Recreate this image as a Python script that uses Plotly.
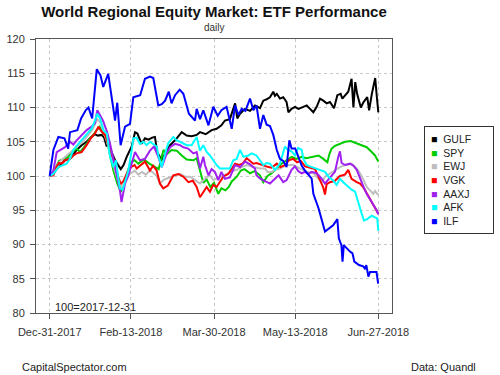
import plotly.graph_objects as go
import pandas as pd

BASE = pd.Timestamp("2017-12-31")

names = ["GULF", "SPY", "EWJ", "VGK", "AAXJ", "AFK", "ILF"]
colors = ["#000000", "#00CD00", "#BEBEBE", "#FF0000", "#A020F0", "#00FFFF", "#0000FF"]

tick_dates = ["2017-12-31", "2018-02-13", "2018-03-30", "2018-05-13", "2018-06-27"]
tick_labels = ["Dec-31-2017", "Feb-13-2018", "Mar-30-2018", "May-13-2018", "Jun-27-2018"]
y_ticks = [80, 85, 90, 95, 100, 105, 110, 115, 120]

# days after 2017-12-31 and index values (100 = 2017-12-31)
gulf_days = [0, 2, 4.7, 8.3, 11, 14.6, 17.3, 20, 21.8, 24.5,
             26, 28.2, 29.5, 30.9, 32, 33.5, 35.4, 37.2, 38.5, 40,
             41.7, 44.4, 46.2, 47.5, 49.8, 51.6, 53.5, 55.5, 57, 58.2,
             60.7, 62.5, 65.2, 68.8, 71.5, 74.2, 76.9, 79.6, 81.4, 84.5,
             87.7, 90.4, 93, 94.9, 97.6, 100.4, 101.6, 103.1, 105.8, 108.5,
             111.2, 113.9, 115.7, 117.5, 119.3, 121.1, 122, 123, 124.7, 126.5,
             128.3, 129.3, 131, 132.9, 134.7, 137.4, 139.2, 141, 142.8, 144.6,
             146.4, 148.2, 150, 151.8, 154, 155.8, 157.6, 158.5, 161.7, 163.5,
             164.5, 165.5, 166.5, 168.5, 170, 172, 173, 174.5, 176.3, 177.2, 178]
gulf_vals = [100, 100.4, 101.3, 102.3, 102.5, 103.8, 104.5, 105, 105.5, 106.1,
             105.9, 106, 105.6, 104.3, 104.8, 103.5, 102.3, 101.5, 101.0, 101.6,
             102.8, 104.3, 106.4, 106.2, 104.7, 105.5, 105.3, 105.6, 105.7, 103.5,
             102.3, 103.3, 104.5, 105.5, 106.4, 105.9, 105.8, 106.0, 106.4, 106.1,
             106.7, 106.9, 107.4, 108.1, 108.3, 110.6, 108.4, 109.1, 109.8, 109.5,
             110.3, 109.9, 111.0, 111.2, 111.5, 112.3, 111.7, 112.0, 111.3, 111.5,
             110.8, 109.3, 109.8, 110.1, 109.8, 110.1, 110.3, 109.8, 109.3, 110.1,
             111.3, 111.0, 110.6, 110.8, 109.9, 111.8, 112.0, 111.3, 112.3, 114.2,
             110.0, 113.7, 112.0, 110.0, 110.8, 111.5, 109.6, 112.0, 114.3, 111.5, 109.3]

spy_days = [0, 2, 5, 8, 10, 12, 14.6, 16.4, 20, 21.8,
            23.6, 25.5, 27, 29, 30.9, 32.7, 34.5, 36.5, 38.5, 40.5,
            42, 44, 46, 48, 51, 54, 57, 59, 61.6, 63.5,
            66, 68.8, 71.5, 74.2, 77.8, 79.6, 81.4, 83.2, 85, 87,
            89, 91.3, 93, 95.2, 97, 98.6, 101.3, 103.5, 105.5, 108.5,
            111, 113.9, 115.7, 118, 120.2, 123, 125.6, 128.3, 131, 133.7,
            136.5, 139, 141.9, 145.6, 148.2, 150.4, 151.5, 152.7, 154.5, 157.2,
            160, 163, 166.3, 169, 171.7, 174.4, 176.2, 178]
spy_vals = [100, 100.5, 102.2, 102.5, 102.8, 103.5, 104.0, 103.5, 104.7, 105.5,
            106.0, 106.7, 107.2, 106.3, 105.5, 103.0, 100.8, 99.0, 97.7, 98.8,
            100.5, 102.0, 102.3, 101.8, 102.4, 101.8, 101.3, 101.0, 103.8, 103.2,
            103.8, 103.7, 103.0, 102.4, 102.3, 102.6, 100.8, 99.0, 99.5, 98.4,
            99.0, 97.4, 98.2, 97.9, 98.4, 99.2, 99.9, 100.8, 101.0, 100.4,
            100.7, 100.1, 99.1, 100.0, 100.4, 101.1, 101.8, 102.3, 102.8, 102.5,
            102.8, 102.6, 102.8, 103.0, 102.5, 102.0, 103.2, 104.0, 104.4, 104.7,
            105.0, 105.1, 104.8, 104.5, 104.2, 103.5, 103.0, 102.1]

ewj_days = [0, 2, 5, 8, 11, 14, 17, 20, 23, 25.8,
            27.5, 29, 31, 33, 35, 37, 38.8, 41, 43, 46,
            48, 50, 52, 54.3, 56, 57.9, 59.7, 62, 65.2, 67.9,
            70.6, 73.3, 76, 78.7, 81.4, 84, 86.8, 88.6, 90.4, 93,
            96, 99.7, 101.3, 104, 106.7, 110.3, 114, 116.6, 118, 120.2,
            122, 124.7, 128.3, 131.9, 135.6, 139.2, 142.8, 145.6, 147.3, 149.1,
            151.8, 154.5, 157.2, 160, 163.5, 166.3, 168.1, 170, 171.7, 173.5,
            175.3, 176.2, 178]
ewj_vals = [100, 100.5, 102.0, 102.7, 103.3, 104.0, 104.8, 105.7, 106.7, 108.3,
            107.8, 106.5, 105.0, 103.0, 101.0, 99.2, 98.3, 99.3, 100.2, 100.8,
            100.2, 100.6, 100.2, 100.8, 100.5, 100.0, 98.9, 99.5, 99.8, 100.1,
            100.3, 99.9, 99.9, 99.4, 98.9, 99.6, 100.1, 99.4, 99.6, 99.9,
            100.3, 100.8, 100.9, 101.3, 101.6, 101.3, 101.1, 101.1, 100.6, 100.6,
            100.9, 101.1, 101.6, 101.6, 101.1, 100.6, 100.4, 99.6, 99.1, 99.9,
            100.4, 100.9, 101.3, 101.6, 101.8, 101.1, 100.4, 99.4, 98.4, 97.9,
            97.4, 97.8, 97.2]

vgk_days = [0, 2, 3.8, 5, 6.5, 8.3, 11, 12.8, 14.6, 17.3,
            20, 22.7, 24.5, 26.4, 28, 30, 32.7, 35.4, 37, 38.5,
            40, 42, 44, 46, 47.1, 49, 51.6, 54.3, 56, 57.9,
            59.7, 61.5, 64, 67, 69.7, 72.4, 75.1, 77.5, 79.6, 81.4,
            83.4, 85, 86.8, 88.6, 90.4, 92.2, 94, 96.7, 98.5, 100.4,
            102.5, 104.5, 106.7, 108.5, 110.3, 112, 114, 116.6, 118.5, 120.2,
            123, 125, 127.4, 129.5, 131.9, 134, 136, 138.3, 141, 143.7,
            146.4, 148.2, 149.1, 150, 151.8, 154.5, 157.2, 159.9, 161.7, 163.5,
            166.3, 168.1, 170, 171.7, 173.5, 175.3, 177.1, 178]
vgk_vals = [100, 100.1, 101.4, 101.9, 101.8, 102.3, 102.5, 103.0, 103.3, 103.5,
            104.5, 105.7, 106.2, 107.2, 106.5, 106.0, 103.8, 101.8, 100.0, 98.8,
            99.3, 100.5, 101.3, 101.6, 101.1, 101.5, 102.1, 100.8, 101.5, 100.8,
            98.9, 98.2, 98.6, 100.1, 100.3, 99.9, 99.1, 99.3, 98.4, 96.9,
            97.8, 98.4, 97.7, 98.7, 98.4, 99.1, 99.9, 100.3, 101.1, 101.8,
            101.6, 101.8, 102.6, 102.2, 101.8, 101.9, 101.7, 101.5, 101.3, 101.2,
            101.8, 101.3, 101.6, 102.3, 102.5, 102.0, 102.2, 101.4, 101.2, 101.0,
            99.4, 98.3, 97.3, 98.8, 99.1, 99.3, 100.0, 100.2, 100.9, 99.6,
            99.1, 98.9, 98.3, 97.5, 96.8, 95.8, 95.0, 94.5]

aaxj_days = [0, 2, 3.8, 5.6, 8.3, 11, 12.8, 14.6, 17.3, 20,
             22.7, 24.5, 25.8, 27.3, 29, 30, 31, 32.7, 34.5, 36.3,
             38, 38.9, 40.8, 42.6, 44.4, 46.2, 48.9, 51.6, 54.3, 56.5,
             58.8, 60.7, 63.4, 65.2, 67.9, 70.6, 72.4, 75, 77.8, 79.6,
             81.4, 83.2, 84.1, 86, 87.7, 89.5, 91.3, 93, 94.9, 97.6,
             100.4, 103.1, 105.8, 108.5, 111.2, 112, 114, 116.6, 119.3, 122,
             124, 126.5, 128.3, 131, 132.8, 134.7, 136.5, 138.3, 140, 141.9,
             144.6, 147.3, 149.1, 151, 152.7, 154.5, 156.3, 157.2, 158.1, 160,
             162.6, 164.5, 166.3, 168.1, 170, 171.7, 173.5, 175.3, 177.1, 178]
aaxj_vals = [100, 100.8, 103.5, 103.8, 104.2, 105.0, 104.6, 105.2, 106.0, 106.7,
             107.2, 107.7, 109.6, 108.9, 108.0, 107.2, 106.5, 104.7, 102.3, 100.3,
             98.0, 96.2, 98.9, 100.1, 102.0, 103.5, 102.3, 102.5, 103.7, 104.3,
             102.8, 101.3, 103.3, 104.2, 104.7, 104.5, 104.2, 104.0, 103.3, 103.5,
             101.1, 102.8, 101.6, 100.1, 101.0, 100.6, 99.4, 100.6, 99.6, 99.8,
             101.6, 101.3, 102.1, 101.7, 101.1, 100.1, 99.6, 99.2, 98.9, 99.6,
             100.1, 99.1, 99.4, 100.9, 101.4, 100.7, 100.4, 100.6, 100.3, 100.6,
             100.4, 99.6, 98.9, 99.5, 100.1, 100.6, 102.8, 103.6, 101.9, 101.6,
             101.8, 101.5, 100.9, 99.6, 98.4, 97.4, 96.5, 95.8, 95.0, 94.4]

afk_days = [0, 2, 4.7, 6.5, 9.2, 11, 12.8, 15.5, 18.2, 20.9,
            22.7, 24.5, 25.8, 27.3, 29.1, 30.9, 32.7, 34.5, 35.9, 36.6,
            38, 39.5, 41, 42.6, 44.4, 45.3, 47, 48.9, 50.7, 52.5,
            54.3, 56, 58, 59, 60.7, 62.5, 64.2, 67, 68.8, 70.6,
            72.4, 74.2, 76.9, 79.6, 81.4, 83.2, 85, 86.8, 88.6, 90.4,
            92.2, 95, 97.6, 99.4, 101.3, 103.1, 104.9, 107.6, 109.4, 112,
            113.9, 115.7, 117.5, 119.3, 122, 124.7, 127.4, 129, 131, 132.8,
            134.6, 136.5, 137.4, 139.2, 141, 143.7, 146.4, 149.1, 151, 153.4,
            155.4, 157.2, 159, 161, 163.5, 165.4, 167.2, 169, 170.2, 172,
            174.4, 176.2, 177.4, 178]
afk_vals = [100, 100.3, 101.3, 101.5, 101.8, 102.5, 103.8, 104.7, 105.5, 106.4,
            106.9, 108.1, 109.1, 108.4, 106.7, 106.2, 102.8, 101.3, 102.3, 100.8,
            98.2, 98.0, 99.5, 100.8, 103.7, 105.5, 105.6, 104.7, 105.0, 104.5,
            105.0, 104.7, 104.3, 102.8, 101.3, 103.3, 104.8, 105.7, 105.2, 105.0,
            104.8, 104.5, 104.5, 105.7, 103.7, 104.5, 103.5, 103.0, 102.3, 101.6,
            101.1, 101.1, 101.1, 102.3, 102.5, 103.8, 102.8, 103.0, 103.3, 103.0,
            102.3, 101.6, 101.9, 101.8, 100.9, 101.8, 104.3, 103.8, 103.6, 103.0,
            104.1, 103.8, 102.5, 101.6, 101.4, 101.1, 100.8, 100.6, 99.9, 99.4,
            98.7, 99.6, 99.1, 98.6, 98.0, 97.7, 95.9, 94.5, 93.5, 93.7,
            94.2, 94.0, 93.8, 92.0]

ilf_days = [0, 2, 4.7, 8, 10, 11, 15, 17, 19.5, 21,
            23, 25.5, 27.5, 29, 31.7, 33, 35.4, 36.6, 38.4, 40.8,
            43.5, 45.3, 49, 51.6, 54.3, 56.1, 58.8, 60.7, 62.5, 64.5,
            66, 67.9, 70.4, 72.4, 75.4, 78.7, 79.6, 81.4, 83.2, 86,
            88.6, 91, 93, 95.8, 98.6, 100.4, 102.2, 104, 106, 108.5,
            110.3, 112, 113.9, 115.7, 117.5, 119.3, 121.1, 123, 124.7, 126.5,
            128.3, 129.8, 131, 133, 134.7, 136.5, 138, 139.5, 141.9, 142.8,
            145.6, 149.1, 151.8, 153.5, 155.8, 156.6, 158, 158.6, 159.3, 160.5,
            162.5, 164, 165, 167.5, 169.8, 170.7, 171.5, 172.6, 173.5, 177, 177.9]
ilf_vals = [100, 103.8, 105.7, 105.5, 104.0, 106.4, 106.7, 108.4, 109.6, 110.0,
            108.4, 115.6, 114.7, 113.0, 114.9, 112.5, 108.1, 110.7, 104.5, 107.2,
            107.6, 111.5, 111.8, 114.2, 114.5, 114.3, 110.3, 110.5, 111.0, 112.3,
            110.6, 111.8, 112.6, 112.0, 109.1, 108.1, 109.8, 108.3, 109.6, 107.4,
            110.1, 108.8, 109.6, 110.1, 106.9, 110.3, 108.9, 109.8, 109.5, 111.3,
            109.6, 110.3, 106.9, 108.9, 107.5, 107.3, 106.0, 103.8, 102.5, 102.2,
            101.3, 105.2, 104.0, 104.0, 102.8, 101.5, 100.9, 100.4, 99.6, 97.4,
            95.3, 91.9, 92.4, 92.8, 93.7, 90.9, 89.9, 87.5, 89.9, 89.5,
            89.0, 88.7, 87.5, 87.0, 86.8, 86.5, 87.0, 85.3, 86.0, 86.0, 84.3]

series_days = [gulf_days, spy_days, ewj_days, vgk_days, aaxj_days, afk_days, ilf_days]
series_vals = [gulf_vals, spy_vals, ewj_vals, vgk_vals, aaxj_vals, afk_vals, ilf_vals]

FONT = "Liberation Sans, Arial, sans-serif"

fig = go.Figure()
for name, col, days, vals in zip(names, colors, series_days, series_vals):
    dates = [BASE + pd.Timedelta(days=d) for d in days]
    fig.add_trace(go.Scatter(x=dates, y=vals, mode="lines", name=name,
                             line=dict(color=col, width=2), showlegend=False))

legend_text = "<br>".join(
    f"<span style='color:{c}'>\u25A0</span>\u00a0\u00a0{n}" for n, c in zip(names, colors))

x_start = BASE - pd.Timedelta(days=7.42)
x_end = BASE + pd.Timedelta(days=185.4)

fig.update_layout(
    width=500, height=375,
    margin=dict(l=36, r=108, t=39, b=62),
    paper_bgcolor="white", plot_bgcolor="white",
    font=dict(family=FONT, size=11, color="#333333"),
    title=dict(text="<b>World Regional Equity Market: ETF Performance</b>",
               x=0.5, xref="paper", xanchor="center",
               y=1 - 12 / 375, yref="container", yanchor="middle",
               font=dict(family=FONT, size=15, color="#111111")),
    xaxis=dict(type="date", range=[x_start, x_end], automargin=False,
               tickvals=tick_dates, ticktext=tick_labels,
               showline=True, linecolor="#555555", linewidth=1, mirror=True,
               ticks="outside", ticklen=5, tickcolor="#555555",
               ticklabelstandoff=4,
               showgrid=True, gridcolor="#c8c8c8", griddash="dot", gridwidth=1,
               zeroline=False, tickfont=dict(size=11, color="#333333")),
    yaxis=dict(range=[80, 120], tickvals=y_ticks, automargin=False,
               showline=True, linecolor="#555555", linewidth=1, mirror=True,
               ticks="outside", ticklen=5, tickcolor="#555555",
               ticklabelstandoff=3,
               showgrid=True, gridcolor="#c8c8c8", griddash="dot", gridwidth=1,
               zeroline=False, tickfont=dict(size=11, color="#333333")),
    annotations=[
        dict(text="daily", xref="paper", yref="paper", x=0.5, y=(313 - 27) / 274,
             xanchor="center", yanchor="middle", showarrow=False,
             font=dict(size=10, color="#333333")),
        dict(text="100=2017-12-31", xref="paper", yref="paper",
             x=(53 - 36) / 356, y=(313 - 307) / 274,
             xanchor="left", yanchor="middle", showarrow=False,
             font=dict(size=11, color="#222222")),
        dict(text="CapitalSpectator.com", xref="paper", yref="paper",
             x=(20 - 36) / 356, y=(313 - 367) / 274,
             xanchor="left", yanchor="middle", showarrow=False,
             font=dict(size=11, color="#222222")),
        dict(text="Data: Quandl", xref="paper", yref="paper",
             x=(478 - 36) / 356, y=(313 - 367) / 274,
             xanchor="right", yanchor="middle", showarrow=False,
             font=dict(size=11, color="#222222")),
        dict(text=legend_text, xref="paper", yref="paper",
             x=(424 - 36) / 356, y=(313 - 126) / 274,
             xanchor="left", yanchor="top", showarrow=False, align="left",
             width=56, borderpad=6, bordercolor="#333333", borderwidth=1,
             bgcolor="white", font=dict(size=10.5, color="#222222")),
    ],
)

fig.write_html("out.html", config={"displayModeBar": False},
               post_script="document.body.style.margin='0px';")
